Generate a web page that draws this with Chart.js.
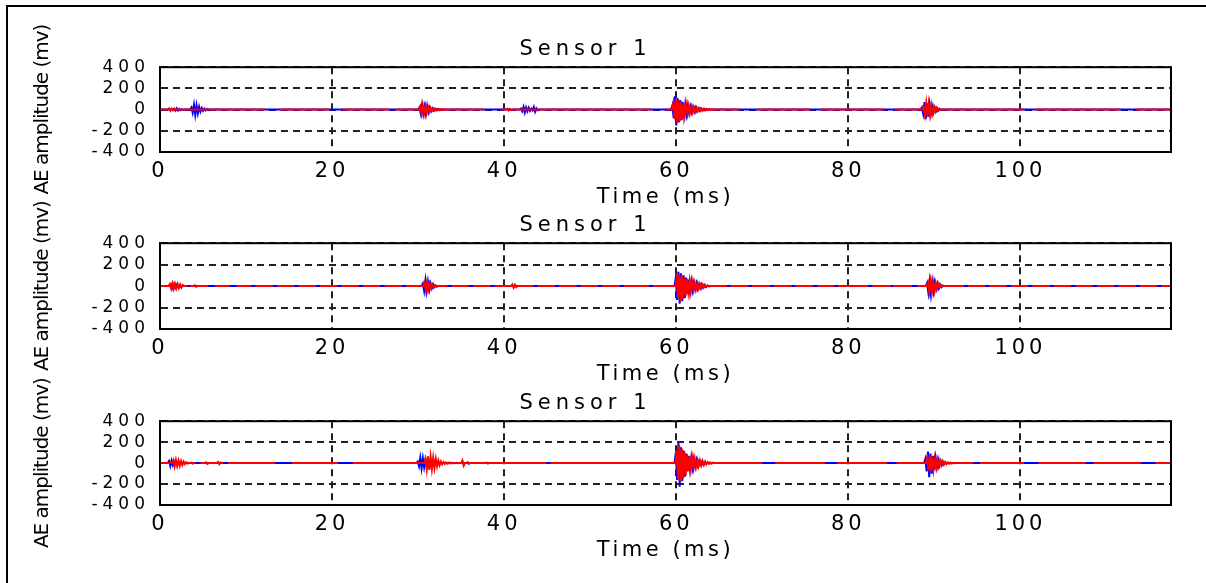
<!DOCTYPE html>
<html>
<head>
<meta charset="utf-8">
<script src="https://cdn.jsdelivr.net/npm/chart.js@4.4.0/dist/chart.umd.min.js"></script>
<style>
  html, body { margin: 0; padding: 0; background: #fff; }
  body { width: 1206px; height: 583px; position: relative; overflow: hidden; }
  .frame { position: absolute; left: 6px; top: 5px; width: 1300px; height: 700px; border-top: 2px solid #000; border-left: 2px solid #000; }
  .panel { position: absolute; left: 0; width: 1206px; }
</style>
</head>
<body>
<div class="frame"></div>
<div class="panel" style="top:22px;height:189px"><canvas id="c1"></canvas></div>
<div class="panel" style="top:198px;height:190px"><canvas id="c2"></canvas></div>
<div class="panel" style="top:376px;height:188px"><canvas id="c3"></canvas></div>
<script>
// axis ticks
const timeTicks = [0, 20, 40, 60, 80, 100];
const ampTicks = [-400, -200, 0, 200, 400];
const tMax = 117.5;
const dt = 0.15; // ms between samples inside a burst

// panel 1 (top)
const s1BlueStart = [1.5, 3.5, 30.0, 41.8, 59.4, 88.4];
const s1BlueBursts = [
  [0, 8, -10, 12, -8, 6, -6, 4, -4, 0],
  [0, 20, -30, 45, -50, 40, -35, 25, -20, 15, -12, 10, -8, 6, -5, 4, -3, 0],
  [0, 20, -35, 45, -40, 30, -45, 35, -25, 20, -15, 12, -10, 8, -6, 5, -4, 3, 0],
  [0, 10, -15, 25, -28, 20, -15, 18, -12, 10, -8, 25, -20, 12, -6, 0],
  [0, 40, -80, 125, -150, 110, -120, 90, -100, 70, -60, 50, -45, 40, -35, 30, -25, 25, -20, 18, -15, 12, -10, 10, -8, 6, -5, 4, -3, 0],
  [0, 20, -40, 70, -90, 60, -70, 50, -40, 30, -25, 20, -15, 12, -8, 5, -3, 0]
];
const s1RedStart = [0.9, 30.1, 40.2, 59.5, 88.6];
const s1RedBursts = [
  [0, 12, -10, 10, -8, 6, -4, 0],
  [0, 30, -40, 40, -35, 35, -30, 25, -20, 15, -12, 10, -8, 8, -6, 6, -5, 5, -4, 4, -3, 3, -2, 0],
  [0, 8, -8, 6, -5, 0],
  [0, 60, -90, 100, -125, 95, -110, 80, -90, 60, -50, 45, -40, 35, -30, 28, -25, 22, -20, 18, -15, 14, -12, 10, -8, 8, -6, 6, -5, 5, -4, 4, -3, 3, -2, 0],
  [0, 30, -50, 60, -65, 55, -50, 40, -35, 25, -20, 15, -12, 8, -5, 0]
];
const s1RedGaps = [[12.2, 13.9], [19.7, 21.2], [26.7, 27.3], [37.6, 39.6], [57.1, 58.8], [67.4, 69.4], [75.6, 76.8], [84.2, 85.4], [100.3, 101.8], [111.6, 113.4]];

// panel 2 (middle)
const s2BlueStart = [1.2, 30.4, 59.8, 89.0];
const s2BlueBursts = [
  [0, 15, -20, 18, -15, 12, -10, 8, -6, 0],
  [0, 25, -45, 55, -50, 40, -35, 25, -20, 15, -10, 6, -4, 0],
  [0, 80, -130, 133, -165, 120, -140, 100, -110, 80, -70, 60, -55, 45, -40, 35, -30, 28, -25, 20, -18, 15, -12, 10, -8, 0],
  [0, 30, -60, 45, -75, 40, -50, 35, -30, 25, -20, 15, -10, 5, 0]
];
const s2RedStart = [1.0, 3.9, 30.6, 40.8, 59.9, 89.1];
const s2RedBursts = [
  [0, 20, -25, 25, -25, 22, -20, 20, -18, 15, -12, 10, 0],
  [0, 8, -6, 0],
  [0, 30, -40, 40, -30, 25, -20, 15, -10, 8, -5, 0],
  [0, 15, -15, 12, -10, 0],
  [0, 70, -110, 110, -140, 100, -120, 85, -90, 65, -55, 50, -45, 40, -35, 30, -28, 25, -22, 20, -18, 15, -12, 10, -8, 6, -4, 0],
  [0, 35, -55, 45, -60, 40, -45, 30, -25, 20, -15, 10, -6, 3, 0]
];
const s2RedGaps = [[3.2, 3.5], [5.6, 6.4], [8.1, 8.9], [10.6, 11.1], [13.1, 13.6], [15.6, 16.1], [18.1, 18.6], [20.6, 21.1],
  [23.1, 23.6], [25.6, 26.1], [28.1, 28.6], [33.4, 33.9], [35.9, 36.4], [38.4, 38.9], [43.4, 43.9], [45.9, 46.4],
  [48.4, 48.9], [50.9, 51.4], [53.4, 53.9], [56.8, 57.3], [65.9, 66.3], [68.4, 68.8], [70.9, 71.3], [73.4, 73.8],
  [75.9, 76.4], [78.4, 78.8], [82.3, 82.8], [84.9, 85.2], [87.4, 88.0], [93.4, 93.9], [95.9, 96.4], [98.4, 98.9],
  [100.9, 101.4], [103.4, 103.9], [105.9, 106.4], [108.4, 108.9], [110.9, 111.4], [113.4, 113.9], [115.9, 116.4]];

// panel 3 (bottom)
const s3BlueStart = [0.9, 29.8, 35.6, 59.8, 88.8];
const s3BlueBursts = [
  [0, 20, -28, 25, -20, 15, -10, 0],
  [0, 15, -30, 50, -50, 45, -40, 35, -30, 25, -20, 15, -10, 0],
  [0, 8, -6, 0],
  [0, 100, -160, 204, -226, 150, -170, 120, -130, 90, -80, 70, -60, 50, -45, 40, -35, 30, -25, 20, -15, 12, -10, 8, -6, 0],
  [0, 40, -80, 110, -135, 90, -100, 70, -65, 50, -40, 30, -25, 20, -15, 10, -6, 0]
];
const s3RedStart = [1.4, 3.5, 5.2, 6.6, 30.7, 35.0, 37.8, 59.9, 89.0];
const s3RedBursts = [
  [0, 28, -30, 30, -28, 25, -25, 20, -18, 15, -10, 8, -5, 0],
  [0, 5, -5, 0],
  [0, 8, -8, 0],
  [0, 10, -10, 6, 0],
  [0, 40, -60, 65, -65, 60, -55, 50, -45, 40, -30, 25, -20, 15, -12, 10, -8, 6, -5, 5, -4, 4, -3, 3, -2, 2, -2, 0],
  [0, 25, -25, 0],
  [0, 5, -5, 0],
  [0, 120, -150, 170, -180, 140, -150, 110, -120, 85, -75, 65, -55, 50, -45, 40, -35, 30, -28, 25, -22, 20, -18, 15, -12, 10, -8, 6, -5, 4, 0],
  [0, 50, -65, 75, -75, 60, -60, 45, -40, 35, -30, 25, -20, 18, -15, 12, -10, 8, -6, 5, -4, 3, -2, 0]
];
const s3RedGaps = [[4.1, 4.7], [7.3, 7.9], [13.4, 15.3], [20.7, 22.4], [44.9, 45.4], [70.0, 71.5], [77.3, 78.7], [84.5, 85.6], [94.5, 95.3], [100.4, 102.1], [107.6, 108.5], [114.0, 115.7]];

Chart.defaults.font.family = "'DejaVu Sans', sans-serif";
Chart.defaults.color = '#000';

// zero baseline + bursts, with holes where the trace has no samples
function trace(starts, bursts, gaps) {
  const pts = [{ x: 0, y: 0 }, { x: tMax, y: 0 }];
  starts.forEach((t0, k) => {
    bursts[k].forEach((v, i) => pts.push({ x: +(t0 + i * dt).toFixed(3), y: v }));
  });
  (gaps || []).forEach(([a, b]) => {
    pts.push({ x: a, y: 0 }, { x: (a + b) / 2, y: null }, { x: b, y: 0 });
  });
  return pts.sort((p, q) => p.x - q.x);
}

// the old figure font is very wide: set letter spacing right before each text is drawn
const spaced = (px) => (c) => { c.chart.ctx.letterSpacing = px + 'px'; return '#000'; };

// matlab style closed box around the plot
const boxPlugin = {
  id: 'box',
  afterDraw(chart) {
    const { ctx, chartArea: a } = chart;
    ctx.save();
    ctx.strokeStyle = '#000';
    ctx.lineWidth = 2;
    ctx.strokeRect(a.left, a.top, a.right - a.left, a.bottom - a.top);
    ctx.restore();
  }
};

function makePanel(id, red, blue) {
  return new Chart(document.getElementById(id), {
    type: 'line',
    data: {
      datasets: [
        { data: red, borderColor: '#ff0000', borderWidth: 2 },
        { data: blue, borderColor: '#0000ff', borderWidth: 2 }
      ]
    },
    options: {
      responsive: true,
      maintainAspectRatio: false,
      animation: false,
      events: [],
      layout: { padding: { top: 15, right: 35, left: 0, bottom: 0 } },
      elements: { point: { radius: 0 }, line: { tension: 0 } },
      plugins: {
        legend: { display: false },
        tooltip: { enabled: false },
        title: {
          display: true,
          text: 'Sensor 1',
          font: { size: 21, weight: 'normal' },
          color: spaced(5),
          padding: { top: 0, bottom: 5 }
        }
      },
      scales: {
        x: {
          type: 'linear',
          min: 0,
          max: tMax,
          afterBuildTicks: (s) => { s.ticks = timeTicks.map(v => ({ value: v })); },
          afterFit: (s) => { s.height = 59; },
          ticks: { font: { size: 21 }, padding: 7, maxRotation: 0, autoSkip: false, color: spaced(4) },
          grid: { color: '#222', lineWidth: 2, drawTicks: false },
          border: { display: true, color: '#000', width: 2, dash: [7, 5] },
          title: { display: true, text: 'Time (ms)', font: { size: 21 }, color: spaced(3.5), padding: { top: 0, bottom: 1 } }
        },
        y: {
          min: -400,
          max: 400,
          afterBuildTicks: (s) => { s.ticks = ampTicks.map(v => ({ value: v })); },
          afterFit: (s) => { s.width = 160; },
          ticks: { font: { size: 17 }, padding: 10, autoSkip: false, color: spaced(5) },
          grid: { color: '#222', lineWidth: 2, drawTicks: false },
          border: { display: true, color: '#000', width: 2, dash: [7, 5] },
          title: { display: true, text: 'AE amplitude (mv)', font: { size: 20 }, color: spaced(-1), padding: { top: 31, bottom: 0 } }
        }
      }
    },
    plugins: [boxPlugin]
  });
}

makePanel('c1', trace(s1RedStart, s1RedBursts, s1RedGaps), trace(s1BlueStart, s1BlueBursts));
makePanel('c2', trace(s2RedStart, s2RedBursts, s2RedGaps), trace(s2BlueStart, s2BlueBursts));
makePanel('c3', trace(s3RedStart, s3RedBursts, s3RedGaps), trace(s3BlueStart, s3BlueBursts));
</script>
</body>
</html>
